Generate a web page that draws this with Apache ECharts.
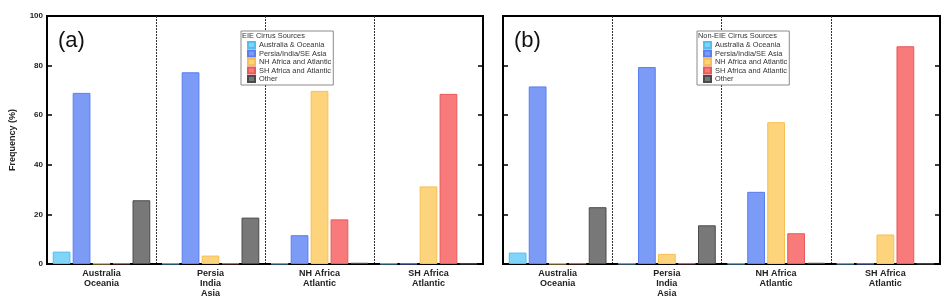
<!DOCTYPE html>
<html>
<head>
<meta charset="utf-8">
<script src="https://cdn.jsdelivr.net/npm/echarts@6/dist/echarts.min.js"></script>
<style>
html,body{margin:0;padding:0;background:#fff;}
#chart{width:950px;height:306px;}
</style>
</head>
<body>
<div id="chart"></div>
<script>
// ---- data ----
var categories = ['Australia\nOceania', 'Persia\nIndia\nAsia', 'NH Africa\nAtlantic', 'SH Africa\nAtlantic'];
var sourceNames = ['Australia & Oceania', 'Persia/India/SE Asia', 'NH Africa and Atlantic', 'SH Africa and Atlantic', 'Other'];
var yTicks = [0, 20, 40, 60, 80, 100];
var panelLabels = ['(a)', '(b)'];
var legendTitles = ['EIE Cirrus Sources', 'Non-EIE Cirrus Sources'];

// EIE cirrus (panel a)
var eieAustralia = [5.0, 0.2, 0.2, 0.2];
var eiePersia    = [69.0, 77.3, 11.6, 0.2];
var eieNHAfrica  = [0.2, 3.4, 69.8, 31.3];
var eieSHAfrica  = [0.3, 0.3, 18.0, 68.6];
var eieOther     = [25.7, 18.7, 0.5, 0.2];

// Non-EIE cirrus (panel b)
var nonAustralia = [4.6, 0.2, 0.2, 0.2];
var nonPersia    = [71.6, 79.4, 29.1, 0.2];
var nonNHAfrica  = [0.2, 4.1, 57.2, 11.9];
var nonSHAfrica  = [0.3, 0.3, 12.4, 87.8];
var nonOther     = [22.9, 15.6, 0.5, 0.2];

// ---- styles ----
var fills   = ['#7fd4f8', '#7b9bf7', '#fdd37c', '#f87a7a', '#787878'];
var borders = ['#55bdf0', '#5a7df0', '#f5c055', '#e85a5a', '#4a4a4a'];
var FONT = 'Liberation Sans, Arial, sans-serif';

var chart = echarts.init(document.getElementById('chart'), null, {renderer: 'canvas'});

var grids = [
  {left: 47, right: 467, top: 16, bottom: 42},
  {left: 503, right: 10, top: 16, bottom: 42}
];

function xAxisFor(i) {
  return {
    type: 'category', gridIndex: i, data: categories,
    axisLine: {show: true, lineStyle: {color: '#000', width: 2}},
    axisTick: {show: false},
    axisLabel: {fontFamily: FONT, fontWeight: 'bold', fontSize: 9, color: '#222', lineHeight: 10, margin: 5, interval: 0},
    splitLine: {show: true, lineStyle: {color: '#333', width: 1, type: [2, 1]}}
  };
}
function yAxisFor(i, pos, labels) {
  return {
    type: 'value', gridIndex: i, min: 0, max: 100, interval: 20, position: pos,
    name: labels ? 'Frequency (%)' : '',
    nameLocation: 'middle', nameGap: 30,
    nameTextStyle: {fontFamily: FONT, fontWeight: 'bold', fontSize: 9, color: '#222'},
    axisLine: {show: true, lineStyle: {color: '#000', width: 2}},
    axisTick: {show: true, inside: true, length: 5, lineStyle: {color: '#000', width: 1.5}},
    axisLabel: {show: labels, fontFamily: FONT, fontWeight: 'bold', fontSize: 8, color: '#222', margin: 4,
      formatter: function (v) { return yTicks.indexOf(v) >= 0 ? String(v) : ''; }},
    splitLine: {show: false}
  };
}

var panelData = [
  [eieAustralia, eiePersia, eieNHAfrica, eieSHAfrica, eieOther],
  [nonAustralia, nonPersia, nonNHAfrica, nonSHAfrica, nonOther]
];

var series = [];
for (var p = 0; p < 2; p++) {
  for (var s = 0; s < sourceNames.length; s++) {
    series.push({
      type: 'bar', name: sourceNames[s], xAxisIndex: p, yAxisIndex: p * 2,
      data: panelData[p][s],
      barCategoryGap: '10.5%', barGap: '12.5%',
      itemStyle: {color: fills[s], borderColor: borders[s], borderWidth: 1},
      emphasis: {disabled: true},
      animation: false
    });
  }
}

var legendLefts = [241, 697];
var legends = [], titles = [];
for (var q = 0; q < 2; q++) {
  legends.push({
    orient: 'vertical', left: legendLefts[q], top: 31,
    data: sourceNames,
    padding: [10, 2, 2, 6],
    itemWidth: 7, itemHeight: 6, itemGap: 0.5,
    icon: 'rect',
    backgroundColor: '#fff', borderColor: '#8a8a8a', borderWidth: 1,
    textStyle: {fontFamily: FONT, fontSize: 7.4, lineHeight: 8, color: '#333', padding: [0, 0, 0, -1]},
    selectedMode: false
  });
  titles.push({
    text: legendTitles[q], left: legendLefts[q] + 1, top: 31, padding: [1, 0, 0, 0],
    textStyle: {fontFamily: FONT, fontSize: 7.4, fontWeight: 'normal', color: '#333'}
  });
}

var option = {
  backgroundColor: '#fff',
  animation: false,
  title: titles,
  legend: legends,
  grid: grids.map(function (g) {
    return Object.assign({show: true, borderColor: '#000', borderWidth: 2, backgroundColor: 'transparent', containLabel: false}, g);
  }),
  xAxis: [xAxisFor(0), xAxisFor(1)],
  yAxis: [yAxisFor(0, 'left', true), yAxisFor(0, 'right', false), yAxisFor(1, 'left', false), yAxisFor(1, 'right', false)],
  series: series,
  graphic: [
    {type: 'text', left: 58, top: 30, style: {text: panelLabels[0], font: '22px ' + FONT, fill: '#111'}},
    {type: 'text', left: 514, top: 30, style: {text: panelLabels[1], font: '22px ' + FONT, fill: '#111'}}
  ]
};
chart.setOption(option);
</script>
</body>
</html>
